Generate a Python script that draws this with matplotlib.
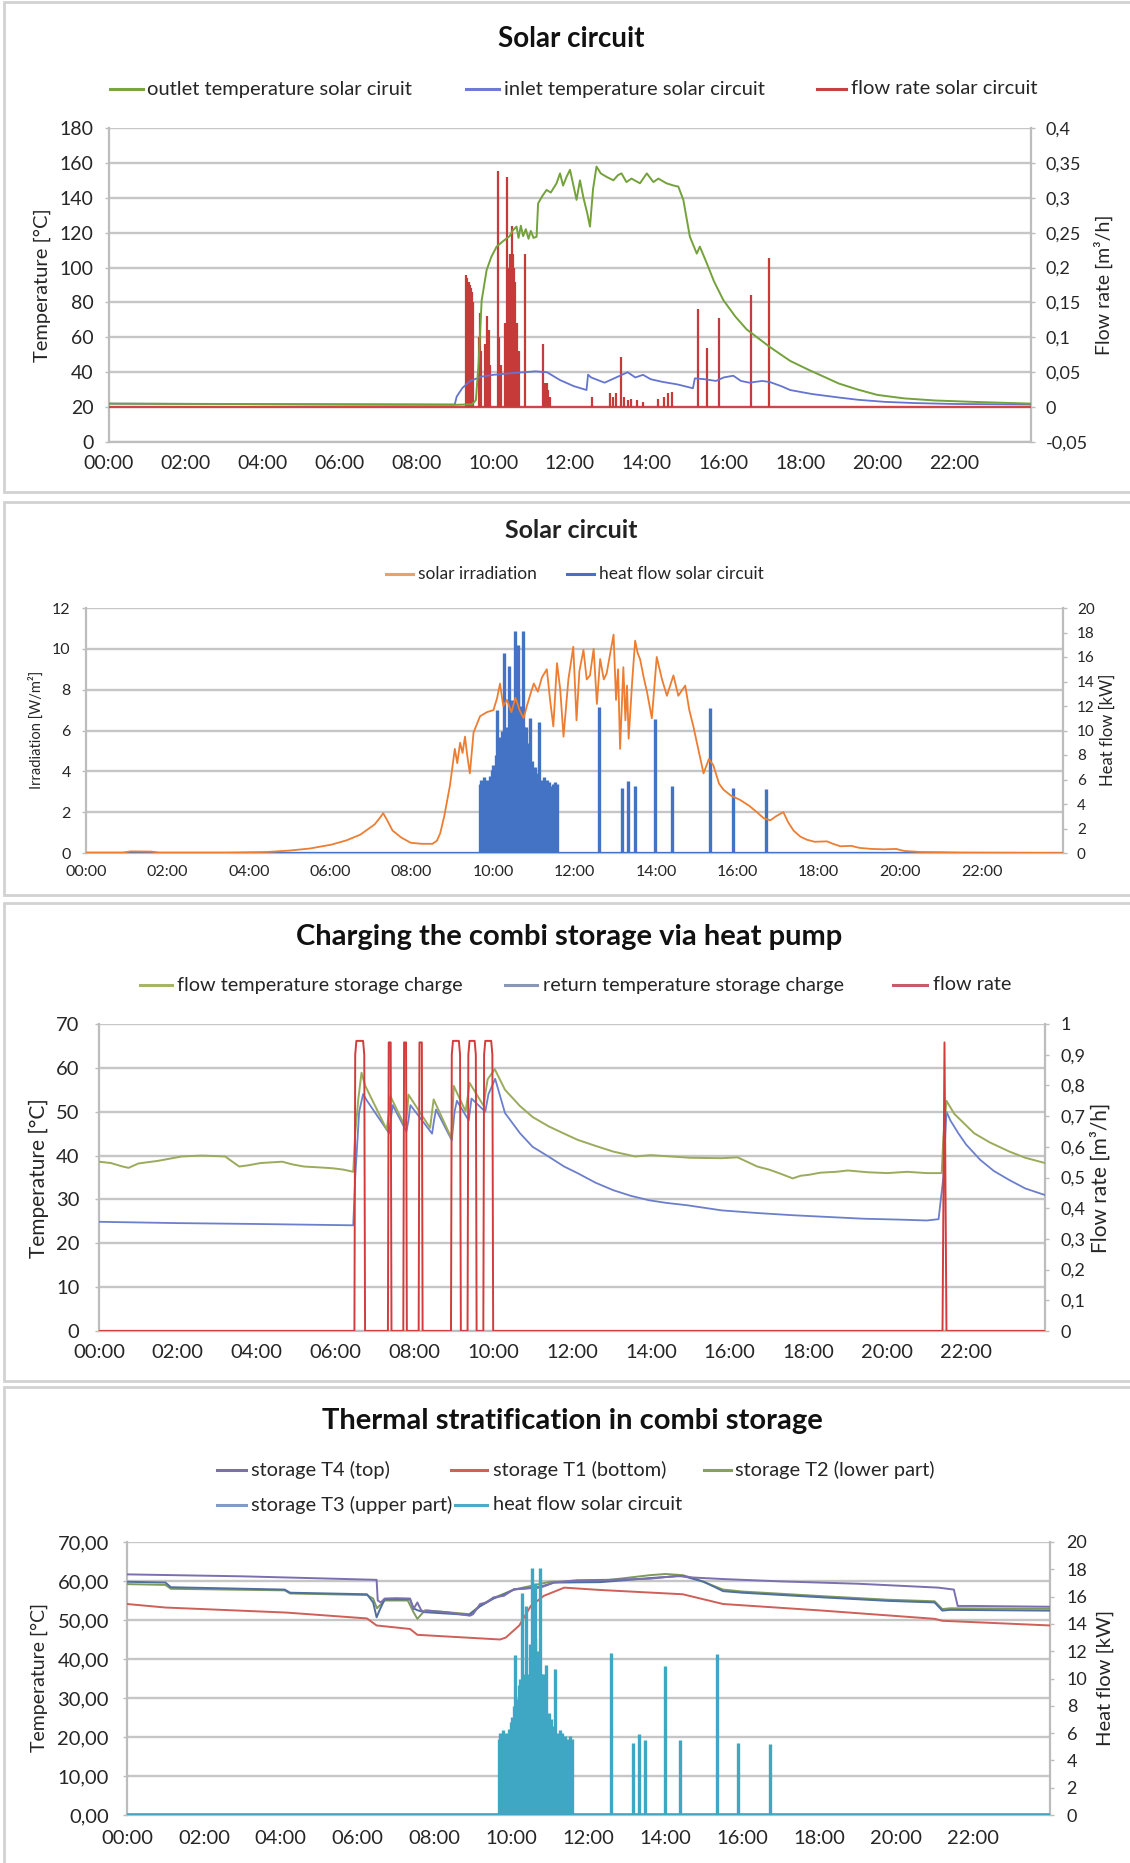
import matplotlib
matplotlib.use("Agg")
import matplotlib.pyplot as plt
from matplotlib.lines import Line2D
from matplotlib.patches import Rectangle

plt.rcParams['font.family'] = ['Lato', 'DejaVu Sans']

# ---------------- data ----------------
HOURS = [0, 2, 4, 6, 8, 10, 12, 14, 16, 18, 20, 22]
HOUR_LABELS = ["00:00", "02:00", "04:00", "06:00", "08:00", "10:00",
               "12:00", "14:00", "16:00", "18:00", "20:00", "22:00"]

# Panel 1: solar circuit temperatures (°C) and flow rate (m³/h)
OUTLET_TEMP = [(0, 22.0), (3, 21.8), (6, 21.5), (9.0, 21.3), (9.45, 21.6), (9.55, 24), (9.62, 45),
               (9.70, 81), (9.83, 98.6), (9.95, 106), (10.09, 112), (10.25, 115), (10.43, 118),
               (10.5, 121), (10.61, 123.5), (10.66, 117), (10.72, 124), (10.78, 118), (10.85, 122),
               (10.92, 116.5), (10.98, 121), (11.05, 117), (11.13, 117.7), (11.17, 136.8),
               (11.28, 141), (11.39, 144.5), (11.5, 143), (11.65, 148.3), (11.74, 154), (11.82, 147),
               (11.91, 152), (12.0, 156), (12.08, 148), (12.17, 138.8), (12.26, 150), (12.35, 140),
               (12.45, 131), (12.52, 123.5), (12.6, 145), (12.69, 157.9), (12.8, 154), (12.95, 152),
               (13.13, 150), (13.25, 153), (13.34, 154), (13.47, 149), (13.6, 151), (13.82, 148.3),
               (14.0, 154), (14.17, 149), (14.3, 151), (14.51, 148.3), (14.7, 147), (14.82, 146.4),
               (14.95, 138.8), (15.12, 117.7), (15.3, 108), (15.38, 112), (15.56, 102.5), (15.75, 92),
               (15.99, 81.4), (16.3, 72), (16.6, 64.5), (17.2, 54.5), (17.73, 46.5), (18.2, 41.5),
               (19.0, 33.5), (19.5, 30), (20.0, 27), (20.7, 25), (21.5, 23.8), (22.5, 23), (24, 22)]
INLET_TEMP = [(0, 22.0), (4, 21.7), (9.0, 21.5), (9.05, 26), (9.2, 31), (9.4, 35), (9.7, 37.5),
              (10.0, 38.5), (10.5, 39.5), (10.8, 40), (11.1, 40.5), (11.4, 40), (11.74, 35.5),
              (12.1, 32), (12.43, 29.8), (12.47, 38.6), (12.55, 37), (12.9, 34), (13.1, 36),
              (13.3, 38), (13.5, 40), (13.7, 37), (13.9, 38.5), (14.1, 36), (14.4, 34.5), (14.8, 33),
              (15.2, 30.8), (15.25, 36.5), (15.5, 36), (15.8, 35), (16.0, 37), (16.25, 38),
              (16.45, 35), (16.67, 34), (17.0, 35), (17.2, 34.4), (17.5, 32), (17.73, 29.8),
              (18.3, 27.5), (19.0, 25.5), (19.5, 24.2), (20.2, 23), (21.0, 22.3), (22.0, 21.8), (24, 21.5)]
SOLAR_FLOW_SPIKES = [(9.30, 0.19), (9.33, 0.185), (9.36, 0.18), (9.39, 0.175), (9.42, 0.17),
                     (9.45, 0.165), (9.48, 0.15), (9.62, 0.10), (9.65, 0.135), (9.68, 0.08),
                     (9.80, 0.09), (9.84, 0.13), (9.88, 0.11), (9.92, 0.06), (10.13, 0.338),
                     (10.16, 0.10), (10.20, 0.06), (10.30, 0.12), (10.36, 0.33), (10.40, 0.20),
                     (10.43, 0.22), (10.46, 0.21), (10.49, 0.26), (10.52, 0.22), (10.55, 0.20),
                     (10.58, 0.18), (10.62, 0.12), (10.66, 0.08), (10.83, 0.22), (11.31, 0.09),
                     (11.34, 0.035), (11.37, 0.03), (11.40, 0.035), (11.43, 0.025), (11.47, 0.015),
                     (12.58, 0.015), (13.05, 0.02), (13.12, 0.015), (13.20, 0.02), (13.33, 0.072),
                     (13.40, 0.015), (13.50, 0.01), (13.60, 0.012), (13.75, 0.01), (13.90, 0.008),
                     (14.30, 0.012), (14.45, 0.015), (14.55, 0.02), (14.65, 0.022), (15.34, 0.14),
                     (15.56, 0.084), (15.89, 0.127), (16.72, 0.16), (17.19, 0.213)]
SOLAR_FLOW_IDLE = [(0, 0.0), (24, 0.0)]

P1_LEFT_TICKS = [0, 20, 40, 60, 80, 100, 120, 140, 160, 180]
P1_LEFT_LABELS = ["0", "20", "40", "60", "80", "100", "120", "140", "160", "180"]
P1_RIGHT_TICKS = [-0.05, 0, 0.05, 0.1, 0.15, 0.2, 0.25, 0.3, 0.35, 0.4]
P1_RIGHT_LABELS = ["-0,05", "0", "0,05", "0,1", "0,15", "0,2", "0,25", "0,3", "0,35", "0,4"]

# Panel 2: solar irradiation and heat flow
IRRADIATION = [(0, 0.02), (0.9, 0.02), (1.1, 0.08), (1.6, 0.07), (1.8, 0.02), (3.5, 0.02), (4.44, 0.05),
               (5.0, 0.12), (5.5, 0.22), (6.03, 0.41), (6.4, 0.62), (6.74, 0.9), (7.09, 1.4), (7.23, 1.75),
               (7.3, 1.95), (7.4, 1.6), (7.53, 1.1), (7.75, 0.75), (7.98, 0.5), (8.25, 0.45), (8.51, 0.45),
               (8.62, 0.6), (8.7, 0.96), (8.8, 1.8), (8.94, 3.3), (9.06, 5.1), (9.12, 4.4), (9.19, 5.4),
               (9.25, 4.9), (9.31, 5.7), (9.37, 4.7), (9.43, 3.9), (9.52, 5.9), (9.6, 6.3), (9.68, 6.7),
               (9.85, 6.9), (10.01, 7.0), (10.1, 7.6), (10.17, 8.3), (10.25, 7.2), (10.34, 7.5),
               (10.45, 6.9), (10.55, 7.6), (10.65, 7.0), (10.75, 6.6), (10.83, 7.2), (10.92, 7.8),
               (11.0, 8.3), (11.1, 7.9), (11.2, 8.6), (11.32, 9.0), (11.4, 7.5), (11.48, 6.2),
               (11.57, 9.3), (11.65, 8.0), (11.73, 5.7), (11.85, 8.5), (11.97, 10.1), (12.05, 6.5),
               (12.12, 8.9), (12.22, 9.95), (12.3, 8.5), (12.38, 8.7), (12.47, 10.0), (12.55, 7.3),
               (12.63, 9.5), (12.72, 8.5), (12.79, 8.8), (12.96, 10.7), (13.02, 7.5), (13.07, 9.0),
               (13.12, 5.1), (13.2, 9.1), (13.25, 6.5), (13.29, 8.2), (13.33, 5.6), (13.42, 8.5),
               (13.49, 10.4), (13.55, 9.8), (13.61, 9.5), (13.7, 8.6), (13.78, 7.9), (13.9, 6.6),
               (14.02, 9.6), (14.15, 8.5), (14.27, 7.7), (14.43, 8.7), (14.55, 7.7), (14.65, 8.0),
               (14.72, 8.2), (14.82, 7.0), (14.92, 6.2), (15.05, 5.0), (15.17, 3.9), (15.3, 4.6),
               (15.41, 4.3), (15.55, 3.4), (15.66, 3.1), (15.85, 2.8), (16.07, 2.6), (16.3, 2.3),
               (16.48, 2.0), (16.65, 1.7), (16.81, 1.6), (16.95, 1.8), (17.13, 2.0), (17.25, 1.5),
               (17.38, 1.1), (17.55, 0.8), (17.71, 0.65), (17.9, 0.55), (18.2, 0.57), (18.35, 0.45),
               (18.53, 0.33), (18.8, 0.35), (19.0, 0.25), (19.3, 0.2), (19.6, 0.18), (19.9, 0.2),
               (20.1, 0.1), (20.5, 0.05), (21.0, 0.04), (21.5, 0.02), (24, 0.0)]
HEAT_FLOW_SPIKES = [(9.68, 5.6), (9.71, 6.0), (9.74, 5.4), (9.77, 6.2), (9.80, 5.8), (9.83, 5.5),
                    (9.86, 6.0), (9.89, 5.7), (9.92, 6.3), (9.95, 6.0), (9.98, 6.8), (10.01, 7.2),
                    (10.04, 6.5), (10.07, 8.0), (10.09, 11.7), (10.12, 7.5), (10.15, 8.5), (10.18, 9.5),
                    (10.21, 10.0), (10.24, 9.0), (10.26, 16.3), (10.29, 10.0), (10.32, 10.3),
                    (10.35, 9.8), (10.38, 15.3), (10.41, 10.2), (10.44, 10.3), (10.47, 12.5),
                    (10.50, 10.0), (10.54, 18.1), (10.57, 10.3), (10.60, 13.0), (10.62, 17.0),
                    (10.65, 10.3), (10.68, 12.0), (10.70, 10.0), (10.73, 18.1), (10.76, 10.3),
                    (10.79, 9.0), (10.82, 10.3), (10.85, 8.0), (10.88, 9.0), (10.90, 11.0),
                    (10.93, 6.0), (10.96, 7.5), (10.99, 6.0), (11.02, 7.0), (11.05, 5.8), (11.08, 6.5),
                    (11.11, 5.6), (11.13, 10.7), (11.16, 5.8), (11.19, 6.0), (11.22, 5.5), (11.25, 6.2),
                    (11.28, 5.7), (11.32, 6.0), (11.35, 5.4), (11.38, 5.8), (11.41, 5.5), (11.44, 5.2),
                    (11.47, 5.6), (11.50, 5.0), (11.53, 5.8), (11.57, 5.6), (12.59, 11.9), (13.16, 5.3),
                    (13.32, 5.9), (13.48, 5.5), (13.98, 10.9), (14.39, 5.5), (15.33, 11.8),
                    (15.89, 5.3), (16.71, 5.2)]
HEAT_FLOW_IDLE = [(0, 0.0), (24, 0.0)]

P2_LEFT_TICKS = [0, 2, 4, 6, 8, 10, 12]
P2_LEFT_LABELS = ["0", "2", "4", "6", "8", "10", "12"]
P2_RIGHT_TICKS = [0, 2, 4, 6, 8, 10, 12, 14, 16, 18, 20]
P2_RIGHT_LABELS = ["0", "2", "4", "6", "8", "10", "12", "14", "16", "18", "20"]

# Panel 3: charging the combi storage via heat pump
FLOW_TEMP = [(0, 38.6), (0.3, 38.3), (0.6, 37.5), (0.75, 37.2), (1.0, 38.2), (1.5, 38.8), (2.1, 39.8),
             (2.6, 40.0), (3.2, 39.8), (3.4, 38.5), (3.56, 37.5), (3.8, 37.8), (4.1, 38.3), (4.65, 38.6),
             (4.9, 38.0), (5.2, 37.5), (5.6, 37.3), (5.93, 37.1), (6.2, 36.8), (6.45, 36.3), (6.5, 45),
             (6.58, 53), (6.66, 58.9), (6.75, 56), (7.3, 45.9), (7.36, 50), (7.39, 53.6), (7.76, 46.7),
             (7.82, 50), (7.85, 53.9), (8.4, 46.3), (8.45, 50), (8.49, 52.8), (8.94, 44.0), (8.97, 50),
             (9.0, 55.9), (9.3, 50.1), (9.35, 53), (9.4, 56.6), (9.76, 51.3), (9.8, 54), (9.86, 57.4),
             (10.04, 59.7), (10.3, 55.0), (10.68, 51.3), (11.0, 48.8), (11.4, 46.7), (11.8, 45),
             (12.14, 43.6), (12.6, 42.2), (13.05, 40.9), (13.6, 39.8), (14.0, 40.1), (14.5, 39.8),
             (15.0, 39.5), (15.8, 39.4), (16.2, 39.6), (16.7, 37.5), (17.0, 36.8), (17.25, 36),
             (17.6, 34.8), (17.8, 35.4), (18.0, 35.6), (18.3, 36.1), (18.7, 36.3), (19.0, 36.6),
             (19.5, 36.2), (20.0, 36), (20.5, 36.3), (21.0, 36), (21.38, 36), (21.42, 44), (21.5, 52.5),
             (21.7, 49.5), (22.2, 45.1), (22.6, 43), (23.1, 40.9), (23.5, 39.5), (24, 38.3)]
RETURN_TEMP = [(0, 24.9), (2, 24.6), (4, 24.4), (6.45, 24.1), (6.5, 35), (6.6, 50), (6.7, 54),
               (6.8, 52.5), (7.36, 45.1), (7.4, 48), (7.45, 51.5), (7.8, 45.5), (7.85, 48), (7.9, 51.5),
               (8.45, 45), (8.5, 48), (8.55, 50.5), (8.95, 43.5), (9.02, 50), (9.08, 52.5), (9.38, 48),
               (9.45, 53), (9.8, 50), (9.88, 54), (10.05, 57.5), (10.3, 49.7), (10.68, 45.1), (11.0, 42),
               (11.4, 39.8), (11.8, 37.5), (12.14, 36), (12.6, 33.8), (13.05, 32.1), (13.5, 30.8),
               (13.96, 29.8), (14.4, 29.2), (14.9, 28.7), (15.8, 27.5), (16.7, 26.9), (17.6, 26.4),
               (18.5, 26.0), (19.4, 25.6), (20.3, 25.4), (21.0, 25.2), (21.3, 25.5), (21.42, 35),
               (21.5, 50), (21.6, 48), (21.8, 45.1), (22.0, 42.5), (22.36, 39), (22.7, 36.5),
               (23.1, 34.4), (23.5, 32.5), (24, 31)]
HP_FLOW = [(0, 0), (6.48, 0), (6.5, 0.9), (6.53, 0.945), (6.7, 0.945), (6.73, 0.9), (6.75, 0),
           (7.33, 0), (7.35, 0.94), (7.40, 0.94), (7.42, 0), (7.72, 0), (7.74, 0.94), (7.79, 0.94),
           (7.81, 0), (8.11, 0), (8.13, 0.94), (8.19, 0.94), (8.21, 0), (8.93, 0), (8.95, 0.9),
           (8.98, 0.945), (9.13, 0.945), (9.16, 0.9), (9.18, 0), (9.35, 0), (9.37, 0.9), (9.40, 0.945),
           (9.53, 0.945), (9.56, 0.9), (9.58, 0), (9.75, 0), (9.77, 0.9), (9.80, 0.945), (9.95, 0.945),
           (9.98, 0.9), (10.0, 0), (21.40, 0), (21.45, 0.94), (21.50, 0), (24, 0)]

P3_LEFT_TICKS = [0, 10, 20, 30, 40, 50, 60, 70]
P3_LEFT_LABELS = ["0", "10", "20", "30", "40", "50", "60", "70"]
P3_RIGHT_TICKS = [0, 0.1, 0.2, 0.3, 0.4, 0.5, 0.6, 0.7, 0.8, 0.9, 1.0]
P3_RIGHT_LABELS = ["0", "0,1", "0,2", "0,3", "0,4", "0,5", "0,6", "0,7", "0,8", "0,9", "1"]

# Panel 4: thermal stratification in combi storage
T4_TOP = [(0, 61.7), (3, 61.2), (6.49, 60.3), (6.52, 55), (6.6, 54.5), (6.7, 55.5), (7.0, 55.6),
          (7.36, 55.5), (7.45, 52.8), (7.55, 54.5), (7.65, 52.5), (7.75, 52.0), (7.8, 52.4), (8.3, 52.0),
          (8.92, 51.1), (9.0, 51.5), (9.18, 54.1), (9.35, 54.5), (9.53, 55.8), (9.8, 56.2), (10.06, 57.9),
          (10.75, 58.3), (11.1, 59.6), (11.7, 60.2), (12.5, 60.3), (13.6, 60.6), (14.0, 61.0),
          (14.3, 61.3), (14.7, 60.9), (15.5, 60.5), (17, 59.9), (19, 59.3), (21.1, 58.3), (21.5, 57.8),
          (21.6, 53.6), (22, 53.6), (24, 53.4)]
T1_BOTTOM = [(0, 54.1), (1.0, 53.2), (4.15, 51.9), (6.24, 50.4), (6.49, 48.6), (7.36, 47.7), (7.55, 46.2),
             (9.7, 45.0), (9.85, 45.5), (10.2, 48.6), (10.5, 53.6), (10.84, 56.2), (11.37, 58.3),
             (12.3, 57.7), (13.67, 57.0), (14.45, 56.6), (15.5, 54.1), (18.1, 52.4), (21.0, 50.3),
             (21.2, 49.8), (24, 48.6)]
T2_LOWER = [(0, 59.2), (1.0, 59.0), (1.14, 58.0), (4.1, 57.6), (4.24, 56.8), (6.24, 56.4), (6.4, 55.5),
            (6.5, 53), (6.7, 55), (7.3, 55.0), (7.45, 52), (7.55, 50.3), (7.75, 52.5), (8.9, 51.5),
            (9.2, 53.8), (9.5, 55.5), (10.06, 57.8), (11.0, 59.8), (12.3, 60.0), (13.6, 61.5),
            (14.0, 61.8), (14.45, 61.5), (14.8, 60.5), (15.5, 57.8), (16.0, 57.3), (18.1, 56.1),
            (19.8, 55.2), (21.0, 54.8), (21.2, 52.8), (21.4, 53.0), (24, 52.9)]
T3_UPPER = [(0, 59.8), (1.0, 59.6), (1.14, 58.4), (4.1, 57.8), (4.24, 57.0), (6.24, 56.6), (6.4, 54.5),
            (6.49, 50.7), (6.58, 52.8), (6.7, 55.3), (7.36, 55.3), (7.45, 53), (7.55, 52.5), (7.75, 52.0),
            (8.9, 51.3), (9.18, 53.5), (9.53, 55.5), (9.8, 56.5), (10.06, 57.8), (10.75, 58.5),
            (11.1, 59.6), (12.3, 59.7), (13.67, 60.8), (14.45, 61.3), (14.7, 60.6), (15.0, 59.8),
            (15.5, 57.4), (16.0, 57.0), (18.1, 55.8), (19.8, 54.9), (21.0, 54.5), (21.2, 52.4),
            (21.4, 52.6), (24, 52.4)]

P4_LEFT_TICKS = [0, 10, 20, 30, 40, 50, 60, 70]
P4_LEFT_LABELS = ["0,00", "10,00", "20,00", "30,00", "40,00", "50,00", "60,00", "70,00"]
P4_RIGHT_TICKS = [0, 2, 4, 6, 8, 10, 12, 14, 16, 18, 20]
P4_RIGHT_LABELS = ["0", "2", "4", "6", "8", "10", "12", "14", "16", "18", "20"]

# ---------------- figure ----------------
W, H = 1130, 1863
fig = plt.figure(figsize=(W / 100, H / 100), dpi=100)
fig.patch.set_facecolor("white")

GRID = "#c6c6c6"
SPINE = "#bdbdbd"
TXT = "#262626"


def fr(x0, y0, x1, y1):
    return [x0 / W, 1 - y1 / H, (x1 - x0) / W, (y1 - y0) / H]


def box(x0, y0, x1, y1):
    fig.add_artist(Rectangle((x0 / W, 1 - y1 / H), (x1 - x0) / W, (y1 - y0) / H,
                             transform=fig.transFigure, fill=False,
                             edgecolor="#d2d2d2", lw=2))


def ftext(x, y, s, **kw):
    fig.text(x / W, 1 - y / H, s, **kw)


def legend_item(x0, x1, y, color, tx, label, fs):
    fig.add_artist(Line2D([x0 / W, x1 / W], [1 - y / H, 1 - y / H],
                          transform=fig.transFigure, color=color, lw=2.2))
    ftext(tx, y, label, fontsize=fs, ha="left", va="center", color=TXT)


def panel(rect, llim, lticks, llabels, rlim, rticks, rlabels, fs, rfs, lpad, rpad, xpad, left_on_top):
    ax_g = fig.add_axes(rect)
    ax_g.set_xlim(0, 24)
    ax_g.set_ylim(*llim)
    ax_g.set_yticks(lticks)
    ax_g.set_yticklabels(llabels)
    ax_g.set_xticks(HOURS)
    ax_g.set_xticklabels(HOUR_LABELS)
    ax_g.yaxis.grid(True, color=GRID, lw=1.7)
    ax_g.set_axisbelow(True)
    for s in ["left", "right", "bottom"]:
        ax_g.spines[s].set_color(SPINE)
        ax_g.spines[s].set_linewidth(1.6)
    ax_g.spines["top"].set_visible(False)
    ax_g.tick_params(axis="y", length=3, width=1, color=SPINE, pad=lpad,
                     labelsize=fs, labelcolor=TXT)
    ax_g.tick_params(axis="x", length=0, pad=xpad, labelsize=fs, labelcolor=TXT)

    ax_r = fig.add_axes(rect)
    ax_r.set_xlim(0, 24)
    ax_r.set_ylim(*rlim)
    ax_r.patch.set_visible(False)
    for s in ax_r.spines.values():
        s.set_visible(False)
    ax_r.yaxis.tick_right()
    ax_r.set_yticks(rticks)
    ax_r.set_yticklabels(rlabels)
    ax_r.tick_params(axis="y", length=3, width=1, color=SPINE, pad=rpad,
                     labelsize=rfs, labelcolor=TXT)
    ax_r.tick_params(axis="x", bottom=False, labelbottom=False)

    ax_l = fig.add_axes(rect)
    ax_l.set_xlim(0, 24)
    ax_l.set_ylim(*llim)
    ax_l.patch.set_visible(False)
    ax_l.set_axis_off()

    ax_g.set_zorder(0)
    if left_on_top:
        ax_r.set_zorder(1)
        ax_l.set_zorder(2)
    else:
        ax_l.set_zorder(1)
        ax_r.set_zorder(2)
    return ax_l, ax_r


def xy(pairs):
    return [p[0] for p in pairs], [p[1] for p in pairs]


# ======== Panel 1 ========
box(4, 2, 1131, 492)
ftext(571, 39, "Solar circuit", fontsize=20, fontweight="bold", ha="center", va="center", color="#111111")
legend_item(110, 143, 89, "#7aa544", 147, "outlet temperature solar ciruit", 14.5)
legend_item(466, 499, 89, "#6f7bd2", 504, "inlet temperature solar circuit", 14.5)
legend_item(817, 846, 89, "#c9403f", 851, "flow rate solar circuit", 14.5)
axl, axr = panel(fr(109, 128, 1031, 442), (0, 180), P1_LEFT_TICKS, P1_LEFT_LABELS,
                 (-0.05, 0.4), P1_RIGHT_TICKS, P1_RIGHT_LABELS, 14, 13, 8, 7.5, 9.5, True)
t, v = xy(SOLAR_FLOW_IDLE)
axr.plot(t, v, color="#d04545", lw=1.6)
t, v = xy(SOLAR_FLOW_SPIKES)
axr.vlines(t, 0, v, color="#c73a3a", lw=1.6)
t, v = xy(INLET_TEMP)
axl.plot(t, v, color="#6474cf", lw=1.3)
t, v = xy(OUTLET_TEMP)
axl.plot(t, v, color="#74a23a", lw=1.4)
ftext(42, 285, "Temperature [°C]", rotation=90, fontsize=14.5, ha="center", va="center", color=TXT)
ftext(1103, 285, "Flow rate [m³/h]", rotation=90, fontsize=14, ha="center", va="center", color=TXT)

# ======== Panel 2 ========
box(4, 502, 1131, 895)
ftext(571, 531, "Solar circuit", fontsize=18, fontweight="bold", ha="center", va="center", color="#222222")
legend_item(386, 413, 574, "#f0a060", 418, "solar irradiation", 12.5)
legend_item(567, 594, 574, "#4472c4", 599, "heat flow solar circuit", 12.5)
axl, axr = panel(fr(86, 608, 1063, 853), (0, 12), P2_LEFT_TICKS, P2_LEFT_LABELS,
                 (0, 20), P2_RIGHT_TICKS, P2_RIGHT_LABELS, 11.5, 11, 8, 7, 8.5, True)
t, v = xy(HEAT_FLOW_IDLE)
axr.plot(t, v, color="#4472c4", lw=2.2)
t, v = xy(HEAT_FLOW_SPIKES)
axr.vlines(t, 0, v, color="#4472c4", lw=2.4)
t, v = xy(IRRADIATION)
axl.plot(t, v, color="#ed7d31", lw=1.3)
ftext(36, 730, "Irradiation [W/m²]", rotation=90, fontsize=10.5, ha="center", va="center", color=TXT)
ftext(1108, 730, "Heat flow [kW]", rotation=90, fontsize=12, ha="center", va="center", color=TXT)

# ======== Panel 3 ========
box(4, 903, 1131, 1381)
ftext(569, 937, "Charging the combi storage via heat pump", fontsize=21, fontweight="bold",
      ha="center", va="center", color="#111111")
legend_item(140, 172, 985, "#a7b56a", 177, "flow temperature storage charge", 14.3)
legend_item(505, 537, 985, "#8a96b8", 543, "return temperature storage charge", 14.3)
legend_item(893, 927, 985, "#c85a6a", 933, "flow rate", 14.3)
axl, axr = panel(fr(99, 1024, 1045, 1331), (0, 70), P3_LEFT_TICKS, P3_LEFT_LABELS,
                 (0, 1), P3_RIGHT_TICKS, P3_RIGHT_LABELS, 14.5, 13, 11, 8, 9, False)
t, v = xy(RETURN_TEMP)
axl.plot(t, v, color="#6c7fcc", lw=1.3)
t, v = xy(FLOW_TEMP)
axl.plot(t, v, color="#9aab5c", lw=1.4)
t, v = xy(HP_FLOW)
axr.plot(t, v, color="#d23c3c", lw=1.4)
ftext(39, 1178, "Temperature [°C]", rotation=90, fontsize=15, ha="center", va="center", color=TXT)
ftext(1101, 1178, "Flow rate [m³/h]", rotation=90, fontsize=15, ha="center", va="center", color=TXT)

# ======== Panel 4 ========
box(4, 1387, 1131, 1866)
ftext(572, 1421, "Thermal stratification in combi storage", fontsize=21, fontweight="bold",
      ha="center", va="center", color="#111111")
legend_item(217, 246, 1470, "#7c6fb0", 251, "storage T4 (top)", 14.4)
legend_item(451, 487, 1470, "#d0605a", 493, "storage T1 (bottom)", 14.4)
legend_item(704, 731, 1470, "#87a060", 735, "storage T2 (lower part)", 14.4)
legend_item(217, 246, 1505, "#7f9cc8", 251, "storage T3 (upper part)", 14.4)
legend_item(455, 487, 1505, "#4bacc6", 493, "heat flow solar circuit", 14.4)
axl, axr = panel(fr(127, 1542, 1050, 1815), (0, 70), P4_LEFT_TICKS, P4_LEFT_LABELS,
                 (0, 20), P4_RIGHT_TICKS, P4_RIGHT_LABELS, 14.5, 13, 10, 9, 11, False)
t, v = xy(T1_BOTTOM)
axl.plot(t, v, color="#cf5f58", lw=1.4)
t, v = xy(T2_LOWER)
axl.plot(t, v, color="#7f9a5e", lw=1.4)
t, v = xy(T3_UPPER)
axl.plot(t, v, color="#4f6f9f", lw=1.4)
t, v = xy(T4_TOP)
axl.plot(t, v, color="#7c6fb0", lw=1.4)
t, v = xy(HEAT_FLOW_IDLE)
axr.plot(t, v, color="#3fa6c4", lw=2.6)
t, v = xy(HEAT_FLOW_SPIKES)
axr.vlines(t, 0, v, color="#3fa6c4", lw=2.4)
ftext(39, 1678, "Temperature [°C]", rotation=90, fontsize=14, ha="center", va="center", color=TXT)
ftext(1105, 1678, "Heat flow [kW]", rotation=90, fontsize=14.5, ha="center", va="center", color=TXT)

fig.savefig("out.png", dpi=100, facecolor="white")
